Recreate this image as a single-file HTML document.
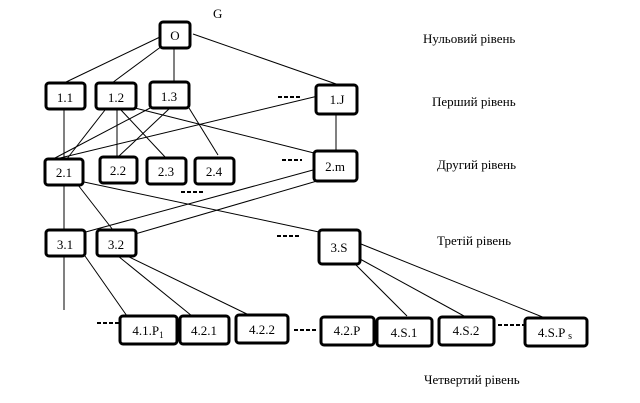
<!DOCTYPE html>
<html><head><meta charset="utf-8"><style>
html,body{margin:0;padding:0;background:#fff}
svg{display:block}
text{font-family:"Liberation Serif",serif;font-size:13px;fill:#000}
.l{stroke:#000;stroke-width:1;fill:none}
.b{fill:#fff;stroke:#000;stroke-width:3}
.d{stroke:#000;stroke-width:2;stroke-dasharray:4,2}
</style></head><body>
<svg width="640" height="403" viewBox="0 0 640 403">
<g class="l">
<line x1="160" y1="37" x2="64" y2="83"/>
<line x1="162" y1="46" x2="112" y2="83"/>
<line x1="174" y1="48" x2="174" y2="82"/>
<line x1="193" y1="34" x2="339" y2="85"/>
<line x1="64" y1="109" x2="64" y2="310"/>
<line x1="105" y1="110" x2="66" y2="160"/>
<line x1="117" y1="110" x2="117" y2="157"/>
<line x1="121" y1="110" x2="166" y2="158"/>
<line x1="135" y1="108" x2="314" y2="153"/>
<line x1="152" y1="107" x2="55" y2="158"/>
<line x1="170" y1="108" x2="118" y2="157"/>
<line x1="189" y1="108" x2="218" y2="155"/>
<line x1="318" y1="96" x2="60" y2="158"/>
<line x1="336" y1="114" x2="336" y2="151"/>
<line x1="84" y1="182" x2="319" y2="232"/>
<line x1="78" y1="185" x2="113" y2="230"/>
<line x1="313" y1="170" x2="82" y2="233"/>
<line x1="317" y1="181" x2="135" y2="234"/>
<line x1="85" y1="256" x2="127" y2="316"/>
<line x1="118" y1="256" x2="192" y2="316"/>
<line x1="127" y1="256" x2="251" y2="316"/>
<line x1="355" y1="264" x2="407" y2="316"/>
<line x1="360" y1="259" x2="464" y2="316"/>
<line x1="361" y1="244" x2="545" y2="318"/>
</g>
<g class="d">
<line x1="278" y1="97" x2="302" y2="97"/>
<line x1="282" y1="160" x2="302" y2="160"/>
<line x1="181" y1="192" x2="203" y2="192"/>
<line x1="277" y1="236" x2="300" y2="236"/>
<line x1="97" y1="323" x2="120" y2="323"/>
<line x1="294" y1="330" x2="318" y2="330"/>
<line x1="498" y1="325" x2="525" y2="325"/>
</g>
<g class="b">
<rect x="160" y="22" width="30" height="26" rx="3"/>
<rect x="46" y="83" width="39" height="26" rx="3"/>
<rect x="96" y="83" width="40" height="26" rx="3"/>
<rect x="150" y="82" width="39" height="26" rx="3"/>
<rect x="316" y="85" width="41" height="29" rx="3"/>
<rect x="45" y="159" width="38" height="26" rx="3"/>
<rect x="100" y="157" width="37" height="26" rx="3"/>
<rect x="147" y="158" width="39" height="26" rx="3"/>
<rect x="195" y="158" width="39" height="26" rx="3"/>
<rect x="314" y="151" width="43" height="30" rx="3"/>
<rect x="46" y="230" width="39" height="26" rx="3"/>
<rect x="97" y="230" width="39" height="26" rx="3"/>
<rect x="319" y="230" width="41" height="34" rx="3"/>
<rect x="120" y="316" width="57" height="28" rx="3"/>
<rect x="180" y="316" width="49" height="28" rx="3"/>
<rect x="236" y="315" width="52" height="28" rx="3"/>
<rect x="321" y="317" width="53" height="28" rx="3"/>
<rect x="377" y="318" width="55" height="28" rx="3"/>
<rect x="439" y="317" width="55" height="28" rx="3"/>
<rect x="525" y="318" width="62" height="28" rx="3"/>
</g>
<g text-anchor="middle">
<text x="175" y="40">O</text>
<text x="65" y="102">1.1</text>
<text x="116" y="102">1.2</text>
<text x="169" y="101">1.3</text>
<text x="337" y="104">1.J</text>
<text x="64" y="177">2.1</text>
<text x="118" y="175">2.2</text>
<text x="166" y="176">2.3</text>
<text x="214" y="176">2.4</text>
<text x="335" y="171">2.m</text>
<text x="65" y="249">3.1</text>
<text x="116" y="249">3.2</text>
<text x="339" y="252">3.S</text>
<text x="148" y="335">4.1.P<tspan font-size="9" dy="3">1</tspan></text>
<text x="204" y="335">4.2.1</text>
<text x="262" y="334">4.2.2</text>
<text x="347" y="335">4.2.P</text>
<text x="404" y="337">4.S.1</text>
<text x="466" y="335">4.S.2</text>
<text x="555" y="337">4.S.P <tspan font-size="10" dy="2">s</tspan></text>
</g>
<text x="213" y="18" font-size="11">G</text>
<text x="423" y="43">Нульовий рівень</text>
<text x="432" y="106">Перший рівень</text>
<text x="437" y="169">Другий рівень</text>
<text x="437" y="245">Третій рівень</text>
<text x="424" y="384">Четвертий рівень</text>
</svg>
</body></html>
